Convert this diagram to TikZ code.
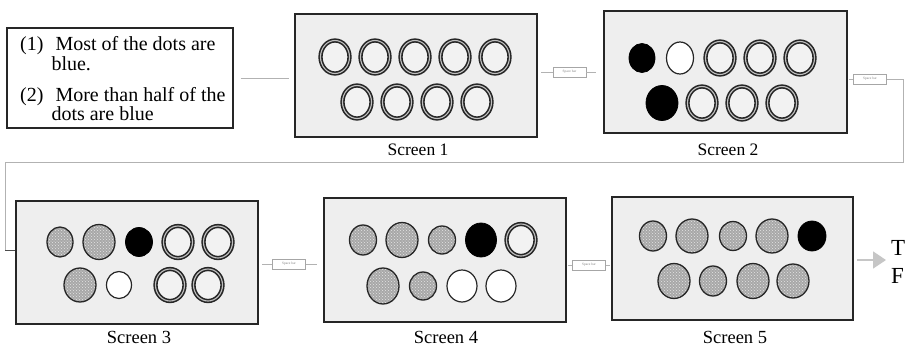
\documentclass[tikz,border=0pt]{standalone}
\usepackage{fontspec}
\setmainfont{Liberation Serif}
\usetikzlibrary{patterns,arrows.meta}
\newcommand\dotRing[4]{\draw[ringst] (#1,#2) ellipse [x radius=#3pt, y radius=#4pt];}
\newcommand\dotBlk[4]{\draw[blkst] (#1,#2) ellipse [x radius=#3pt, y radius=#4pt];}
\newcommand\dotWht[4]{\draw[whtst] (#1,#2) ellipse [x radius=#3pt, y radius=#4pt];}
\newcommand\dotHat[4]{\draw[hatst] (#1,#2) ellipse [x radius=#3pt, y radius=#4pt];}
\begin{document}
\begin{tikzpicture}[x=1pt,y=-1pt,
  screen/.style={rectangle,draw=black!85,line width=1.5pt,fill=gray!13,inner sep=0pt},
  conn/.style={draw=gray!60,line width=0.8pt},
  sbox/.style={rectangle,draw=gray!70,fill=white,line width=0.7pt,minimum width=33pt,minimum height=10pt,inner sep=0pt,text=gray,font=\fontsize{3.5}{4}\selectfont},
  lab/.style={anchor=base,inner sep=0pt},
  ringst/.style={draw=black!85,line width=1.6pt,double=gray!50,double distance=1.1pt,fill=gray!10},
  blkst/.style={draw=black,line width=0.8pt,fill=black},
  whtst/.style={draw=black!85,line width=1.2pt,fill=white},
  hatst/.style={draw=black!85,line width=1.3pt,preaction={fill=gray!68},pattern={crosshatch dots},pattern color=gray!20},
]
\useasboundingbox (0,0) rectangle (908,346);

% question box
\node[rectangle,draw=black!85,line width=1.1pt,minimum width=226pt,minimum height=100pt,inner sep=0pt] (q) at (120,78) {};
\node[anchor=west,inner sep=0pt,font=\fontsize{20}{18}\selectfont] (qt) at (20,81.4) {%
\begin{tabular}{@{}l@{\hspace{12pt}}l@{}}
(1) & Most of the dots are\\
    & \hspace*{-4pt}blue.\\[12pt]
(2) & More than half of the\\
    & \hspace*{-4pt}dots are blue
\end{tabular}};

% screens
\node[screen,minimum width=242pt,minimum height=123pt] (s1) at (416,75.5) {};
\node[screen,minimum width=243pt,minimum height=122pt] (s2) at (725.5,72) {};
\node[screen,minimum width=242pt,minimum height=123pt] (s3) at (137,262.5) {};
\node[screen,minimum width=242pt,minimum height=124pt] (s4) at (445,260) {};
\node[screen,minimum width=241pt,minimum height=123pt] (s5) at (732.5,258.5) {};

% labels
\node[lab,font=\fontsize{17.5}{18}\selectfont] (l1) at (418,155) {Screen 1};
\node[lab,font=\fontsize{17.5}{18}\selectfont] (l2) at (728,155) {Screen 2};
\node[lab,font=\fontsize{18.5}{19}\selectfont] (l3) at (139,343) {Screen 3};
\node[lab,font=\fontsize{18.5}{19}\selectfont] (l4) at (446,343) {Screen 4};
\node[lab,font=\fontsize{18.5}{19}\selectfont] (l5) at (735,343) {Screen 5};

% space bar boxes
\node[sbox] (sb1) at (569.5,72) {Space bar};
\node[sbox] (sb2) at (870,79) {Space bar};
\node[sbox] (sb3) at (289,264) {Space bar};
\node[sbox] (sb4) at (589,265) {Space bar};

% connectors
\draw[conn,shorten <=7pt,shorten >=5pt] (q.east) -- (q.east -| s1.west);
\draw[conn,shorten >=3pt] (sb1.west) -- (sb1.west -| s1.east);
\draw[conn,shorten >=7pt] (sb1.east) -- (sb1.east -| s2.west);
\draw[conn,shorten >=1pt] (sb2.west) -- (sb2.west -| s2.east);
\coordinate (r1) at (903,162);
\coordinate (l1c) at (5,162);
\coordinate (j3) at (5,250);
\draw[conn] (sb2.east) -| (r1) -- (l1c) -- (j3);
\draw[draw=black!70,line width=0.9pt] (j3) -- (j3 -| s3.west);
\draw[conn,shorten >=3pt] (sb3.west) -- (sb3.west -| s3.east);
\draw[conn,shorten >=6pt] (sb3.east) -- (sb3.east -| s4.west);
\draw[conn,shorten >=1pt] (sb4.west) -- (sb4.west -| s4.east);
\draw[conn,shorten >=1pt] (sb4.east) -- (sb4.east -| s5.west);

% final arrow and T/F
\coordinate (tf) at (886,260);
\draw[draw=gray!45,line width=1.6pt,-{Triangle[length=13pt,width=17pt]}] ([xshift=3pt]s5.east |- tf) -- (tf);
\node[anchor=base west,inner sep=0pt,font=\fontsize{23}{23}\selectfont] (T) at (891,255) {T};
\node[anchor=base west,inner sep=0pt,font=\fontsize{23}{23}\selectfont] (F) at (891,283) {F};

% screen 1 dots
\foreach \x in {335,375,415,455,495} {\dotRing{\x}{57}{14.5}{16.5}}
\foreach \x in {357,397,437,477} {\dotRing{\x}{102}{14.5}{16.5}}

% screen 2 dots
\dotBlk{642}{58}{13}{14.5}
\dotWht{680}{58}{13.5}{16}
\dotRing{720}{58}{14.5}{16.5}
\dotRing{760}{58}{14.5}{16.5}
\dotRing{800}{58}{14.5}{16.5}
\dotBlk{662}{103}{16}{17.5}
\dotRing{702}{103}{14.5}{16.5}
\dotRing{742}{103}{14.5}{16.5}
\dotRing{782}{103}{14.5}{16.5}

% screen 3 dots
\dotHat{60}{242}{13}{15}
\dotHat{99}{242}{16}{17.5}
\dotBlk{139}{242}{13.5}{14.5}
\dotRing{178}{242}{14.5}{16}
\dotRing{218}{242}{14.5}{16}
\dotHat{80}{285}{16}{17}
\dotWht{119}{285}{12.5}{13.5}
\dotRing{170}{285}{14.5}{16}
\dotRing{208}{285}{14.5}{16}

% screen 4 dots
\dotHat{363}{240}{13.5}{15}
\dotHat{402}{240}{16}{17.5}
\dotHat{442}{240}{13.5}{14}
\dotBlk{481}{240}{15.5}{17}
\dotRing{521}{240}{14.5}{16}
\dotHat{383}{286}{16}{18}
\dotHat{423}{286}{13.5}{14}
\dotWht{462}{286}{15}{16}
\dotWht{501}{286}{15}{16}

% screen 5 dots
\dotHat{653}{236}{13.5}{15}
\dotHat{692}{236}{16}{17}
\dotHat{733}{236}{13.5}{14.5}
\dotHat{772}{236}{16}{17}
\dotBlk{812}{236}{14}{15}
\dotHat{674}{281}{16}{17.5}
\dotHat{713}{281}{13.5}{15}
\dotHat{753}{281}{16}{17.5}
\dotHat{793}{281}{16}{17}
\end{tikzpicture}
\end{document}
